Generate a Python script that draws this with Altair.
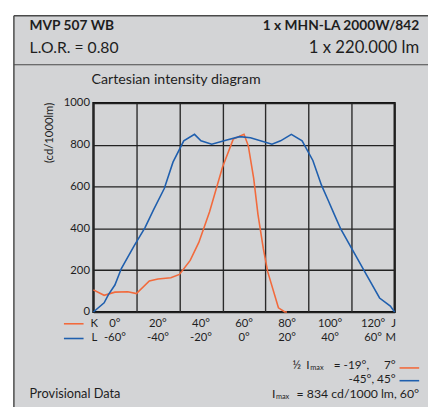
import altair as alt
import pandas as pd

# ---- data ----
orange_k = [-10, -5, 0, 6, 10, 16, 20, 26, 30, 35, 39, 44, 50, 55, 60, 62, 64.5, 66.5, 69, 71, 76, 79, 80]
orange_v = [106, 80, 95, 97, 88, 149, 158, 164, 180, 247, 333, 480, 693, 827, 850, 795, 639, 466, 302, 193, 20, 0, 0]

blue_l = [-70, -65, -63, -60, -57, -51, -46, -42, -37, -33, -28, -23, -20, -15, -8, -2, 3, 13, 17, 22,
          27, 32, 36, 39, 42, 45, 51, 57, 63, 68, 70]
blue_v = [0, 44, 83, 129, 208, 318, 404, 490, 592, 717, 819, 850, 819, 803, 823, 839, 834, 803, 819, 850,
          819, 725, 607, 537, 466, 396, 286, 177, 67, 28, 0]

k_ticks = [0, 20, 40, 60, 80, 100, 120]
l_ticks = [-60, -40, -20, 0, 20, 40, 60]
grid_x = list(range(-10, 131, 10))
grid_y = list(range(0, 1001, 100))

FONT = "Lato"
ORANGE = "#f26a3c"
BLUE = "#1f5fae"
GREY = "#d3d4d6"
INK = "#1e1e1e"

X0, Y0 = 95, 101  # plot origin in page pixels
W, H = 307, 213

one = pd.DataFrame({"a": [0]})

xs = alt.Scale(domain=[-10, 130], nice=False, zero=False)
ys = alt.Scale(domain=[0, 1000], nice=False)


def txt(text, x, y, size=12.0, align="left", weight="normal", baseline="alphabetic"):
    return alt.Chart(one).mark_text(
        text=text, align=align, baseline=baseline, fontSize=size,
        fontWeight=weight, font=FONT, color=INK
    ).encode(x=alt.value(x - X0), y=alt.value(y - Y0))


def rule(x1, x2, y1, y2, color, width):
    return alt.Chart(one).mark_rule(color=color, strokeWidth=width).encode(
        x=alt.value(x1 - X0), x2=alt.value(x2 - X0), y=alt.value(y1 - Y0), y2=alt.value(y2 - Y0)
    )


def rect(x1, x2, y1, y2, color):
    return alt.Chart(one).mark_rect(color=color).encode(
        x=alt.value(x1 - X0), x2=alt.value(x2 - X0), y=alt.value(y1 - Y0), y2=alt.value(y2 - Y0)
    )


orange_df = pd.DataFrame({"K": orange_k, "v": orange_v})
blue_df = pd.DataFrame({"L": blue_l, "v": blue_v})

base_axes = alt.Chart(orange_df).mark_line(color=ORANGE, strokeWidth=1.6).encode(
    x=alt.X("K:Q", scale=xs, axis=alt.Axis(
        values=grid_x, labels=False, ticks=False, domain=False, title=None,
        grid=True, gridColor="#2a2a2a", gridWidth=1.4)),
    y=alt.Y("v:Q", scale=ys, axis=alt.Axis(
        values=grid_y, ticks=False, domain=False, grid=True, gridColor="#222222", gridWidth=1.4,
        labelExpr="datum.value % 200 == 0 ? '' + datum.value : ''",
        labelFont=FONT, labelFontSize=11.5, labelColor=INK, labelPadding=4,
        title="(cd/1000lm)", titleFont=FONT, titleFontSize=11.5, titleFontWeight="normal",
        titleColor=INK, titleX=-45, titleY=30, titleAlign="center", titleBaseline="middle"))
)

blue_line = alt.Chart(blue_df).transform_calculate(K="datum.L + 60").mark_line(
    color=BLUE, strokeWidth=1.6).encode(x=alt.X("K:Q", scale=xs), y=alt.Y("v:Q", scale=ys))

k_lab = alt.Chart(pd.DataFrame({"K": k_ticks})).transform_calculate(
    t="datum.K + '°'").mark_text(font=FONT, fontSize=11.5, color=INK, baseline="middle").encode(
    x=alt.X("K:Q", scale=xs), y=alt.value(326 - Y0), text="t:N")

l_lab = alt.Chart(pd.DataFrame({"L": l_ticks})).transform_calculate(
    K="datum.L + 60", t="datum.L + '°'").mark_text(font=FONT, fontSize=11.5, color=INK, baseline="middle").encode(
    x=alt.X("K:Q", scale=xs), y=alt.value(341 - Y0), text="t:N")

layers = [
    rect(0, 14, 0, 420, "white"),
    rect(0, 450, 0, 12, "white"),
    rule(14, 450, 12, 12, "#4a4a4a", 1.5),
    rule(14, 14, 12, 420, "#4a4a4a", 1.5),
    rule(14, 450, 62, 62, "#4a4a4a", 1.2),
    txt("MVP 507 WB", 30, 27, 14, weight="bold"),
    txt("1 x MHN-LA 2000W/842", 427, 27, 14, align="right", weight="bold"),
    txt("L.O.R. = 0.80", 30, 50, 16),
    txt("1 x 220.000 lm", 427, 50, 17, align="right"),
    txt("Cartesian intensity diagram", 93, 82, 14.5),
    base_axes,
    blue_line,
    k_lab,
    l_lab,
    rule(65, 85, 326, 326, ORANGE, 1.6),
    rule(65, 85, 341, 341, BLUE, 1.6),
    txt("K", 96, 326, 11.5, align="center", baseline="middle"),
    txt("L", 96, 341, 11.5, align="center", baseline="middle"),
    txt("J", 401, 326, 11.5, align="center", baseline="middle"),
    txt("M", 398, 341, 11.5, align="center", baseline="middle"),
    txt("½", 298, 368, 12, baseline="middle"),
    txt("I", 312, 368, 12, baseline="middle"),
    txt("max", 316, 371, 7.5, baseline="middle"),
    txt("= -19°,", 376, 368, 12, align="right", baseline="middle"),
    txt("7°", 403, 368, 12, align="right", baseline="middle"),
    rule(407, 427, 371, 371, ORANGE, 1.6),
    txt("-45°, 45°", 403, 382, 12, align="right", baseline="middle"),
    rule(407, 427, 384, 384, BLUE, 1.6),
    txt("I", 277, 398, 12.5, baseline="middle"),
    txt("max", 281, 401, 7.5, baseline="middle"),
    txt("= 834 cd/1000 lm, 60°", 427, 398, 12.5, align="right", baseline="middle"),
    txt("Provisional Data", 30, 398, 13, baseline="middle"),
]

chart = alt.layer(*layers).properties(
    width=W, height=H,
    autosize=alt.AutoSizeParams(type="none"),
    padding={"left": X0 - 8, "top": Y0 - 8, "right": 436 - X0 - W, "bottom": 407 - Y0 - H},
    background=GREY,
).configure_view(stroke="#111111", strokeWidth=2.2)

chart.save("out.html", embed_options={"renderer": "svg", "actions": False})
